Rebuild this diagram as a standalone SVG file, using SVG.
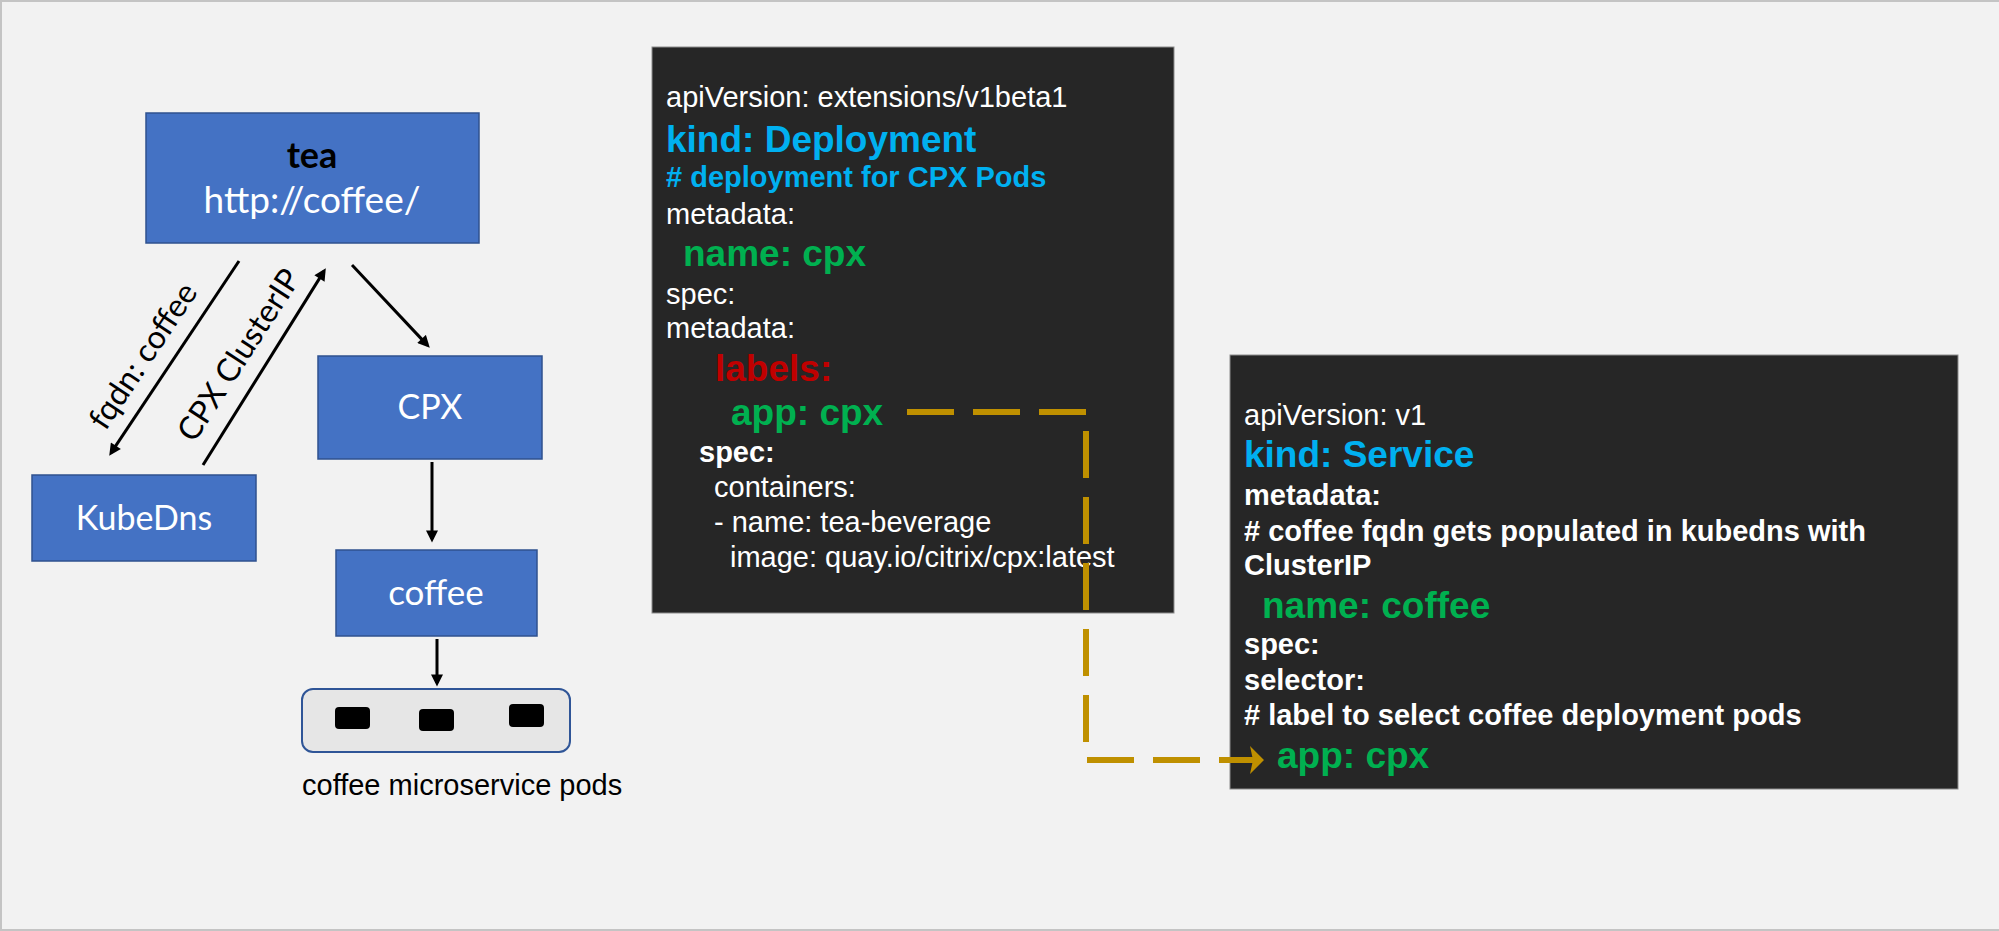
<svg xmlns="http://www.w3.org/2000/svg" width="1999" height="931" viewBox="0 0 1999 931">
<defs>
<style>
.node{fill:#4472c4;stroke:#2f528f;stroke-width:1.5}
.nl{font-family:Lato,"Open Sans","Liberation Sans",sans-serif;fill:#ffffff;text-anchor:middle}
.lbl{font-family:Lato,"Open Sans","Liberation Sans",sans-serif;fill:#000000;text-anchor:middle;font-size:32px}
.edge{stroke:#000000;stroke-width:3;fill:none}
.code{fill:#262626;stroke:#8c8c8c;stroke-width:1}
.t{font-family:"Liberation Sans",Arial,sans-serif;font-size:29px;fill:#ffffff}
.b{font-weight:bold}
.big{font-size:37px;font-weight:bold}
.blue{fill:#00b0f0}
.green{fill:#00b050}
.red{fill:#c00000}
.dash{stroke:#bf9000;stroke-width:6;fill:none;stroke-dasharray:47 19}
</style>
<marker id="ah" viewBox="0 0 10 10" refX="7" refY="5" markerWidth="13" markerHeight="12" markerUnits="userSpaceOnUse" orient="auto">
<path d="M0,0 L10,5 L0,10 z" fill="#000000"/>
</marker>
</defs>
<rect x="0" y="0" width="1999" height="931" fill="#f2f2f2"/>
<rect x="1" y="1" width="2010" height="929" fill="none" stroke="#c4c4c4" stroke-width="2"/>

<g id="tea">
<rect class="node" x="146" y="113" width="333" height="130"/>
<text class="nl" x="312" y="168" font-size="36" font-weight="bold" style="fill:#000000">tea</text>
<text class="nl" x="312" y="213" font-size="37">http://coffee/</text>
</g>
<g id="cpx">
<rect class="node" x="318" y="356" width="224" height="103"/>
<text class="nl" x="430" y="419" font-size="34">CPX</text>
</g>
<g id="kubedns">
<rect class="node" x="32" y="475" width="224" height="86"/>
<text class="nl" x="144" y="530" font-size="34">KubeDns</text>
</g>
<g id="coffee">
<rect class="node" x="336" y="550" width="201" height="86"/>
<text class="nl" x="436" y="605" font-size="35">coffee</text>
</g>
<g id="pods">
<rect x="302" y="689" width="268" height="63" rx="11" fill="#e6e6e6" stroke="#2f5597" stroke-width="2"/>
<rect x="335" y="707" width="35" height="22" rx="4" fill="#000000"/>
<rect x="419" y="709" width="35" height="22" rx="4" fill="#000000"/>
<rect x="509" y="704" width="35" height="23" rx="4" fill="#000000"/>
<text x="302" y="795" font-family="Liberation Sans, Arial, sans-serif" font-size="29" fill="#000000">coffee microservice pods</text>
</g>

<g id="deployment">
<rect class="code" x="652" y="47" width="522" height="566"/>
<text class="t" x="666" y="107">apiVersion: extensions/v1beta1</text>
<text class="t big blue" x="666" y="152">kind: Deployment</text>
<text class="t b blue" x="666" y="187"># deployment for CPX Pods</text>
<text class="t" x="666" y="224">metadata:</text>
<text class="t big green" x="683" y="266">name: cpx</text>
<text class="t" x="666" y="304">spec:</text>
<text class="t" x="666" y="338">metadata:</text>
<text class="t big red" x="715" y="381">labels:</text>
<text class="t big green" x="731" y="425">app: cpx</text>
<text class="t b" x="699" y="462">spec:</text>
<text class="t" x="714" y="497">containers:</text>
<text class="t" x="714" y="532">- name: tea-beverage</text>
<text class="t" x="730" y="567">image: quay.io/citrix/cpx:latest</text>
</g>

<g id="service">
<rect class="code" x="1230" y="355" width="728" height="434"/>
<text class="t" x="1244" y="425">apiVersion: v1</text>
<text class="t big blue" x="1244" y="467">kind: Service</text>
<text class="t b" x="1244" y="505">metadata:</text>
<text class="t b" x="1244" y="541"># coffee fqdn gets populated in kubedns with</text>
<text class="t b" x="1244" y="575">ClusterIP</text>
<text class="t big green" x="1262" y="618">name: coffee</text>
<text class="t b" x="1244" y="654">spec:</text>
<text class="t b" x="1244" y="690">selector:</text>
<text class="t b" x="1244" y="725"># label to select coffee deployment pods</text>
<text class="t big green" x="1277" y="768">app: cpx</text>
</g>

<g id="connectors">
<line class="edge" x1="239" y1="261" x2="111.2" y2="452.7" marker-end="url(#ah)"/>
<line class="edge" x1="203" y1="465" x2="323.9" y2="271.4" marker-end="url(#ah)"/>
<line class="edge" x1="352" y1="265" x2="427.3" y2="345.1" marker-end="url(#ah)"/>
<line class="edge" x1="432" y1="462" x2="432" y2="539" marker-end="url(#ah)"/>
<line class="edge" x1="437" y1="639" x2="437" y2="683" marker-end="url(#ah)"/>
<text class="lbl" x="152" y="362" transform="rotate(-56.3 152 362)">fqdn: coffee</text>
<text class="lbl" x="248" y="361" transform="rotate(-57 248 361)">CPX ClusterIP</text>
<path class="dash" d="M907 412 H1086 V760 H1253"/>
<polygon points="1264,760 1250,746 1253,760 1250,774" fill="#bf9000"/>
</g>
</svg>
